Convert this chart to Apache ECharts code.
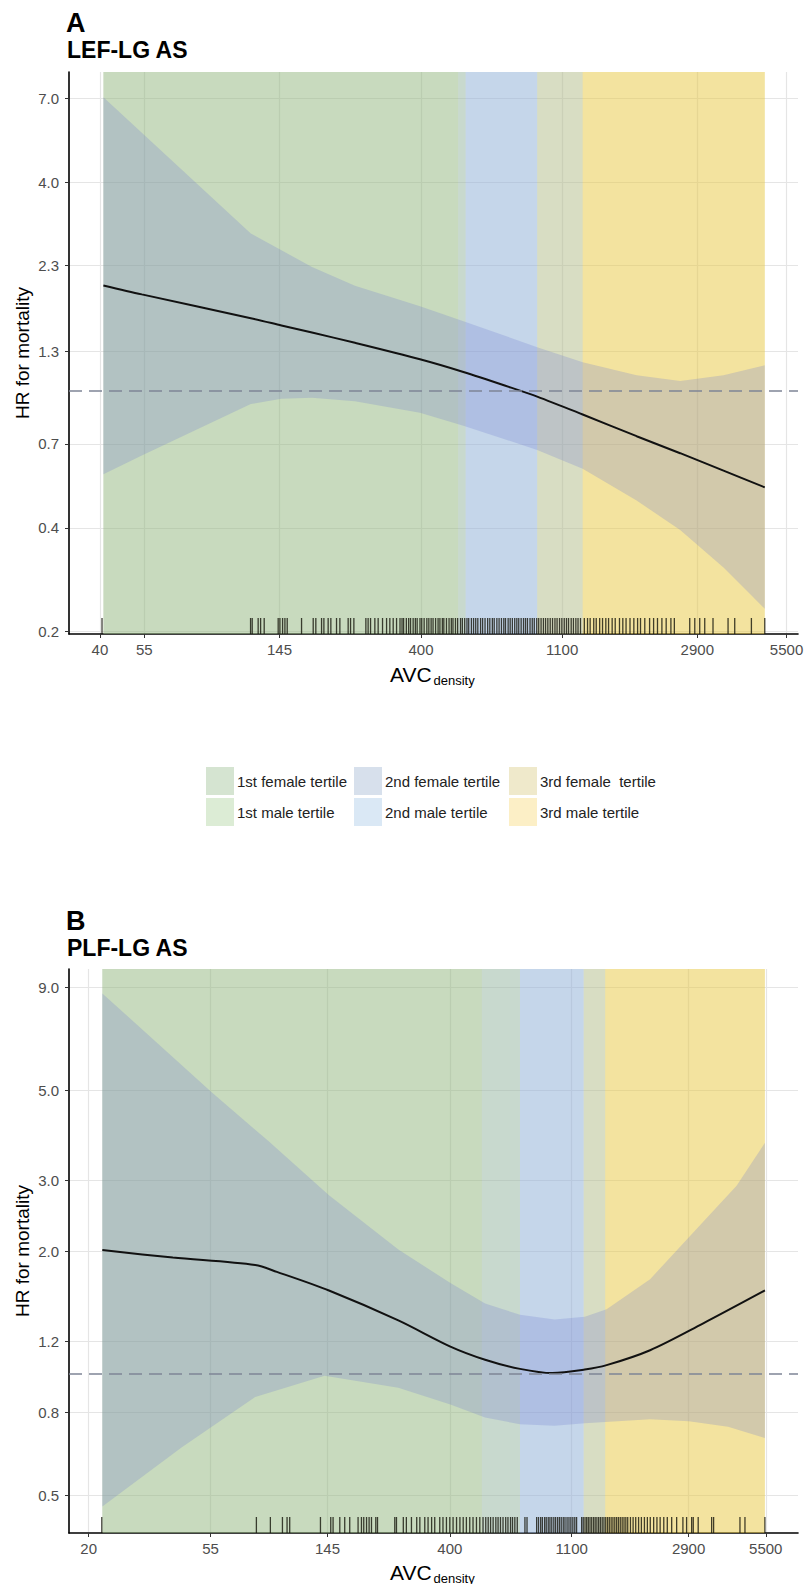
<!DOCTYPE html>
<html>
<head>
<meta charset="utf-8">
<title>AVC density and mortality</title>
<script src="https://cdn.jsdelivr.net/npm/echarts@6/dist/echarts.min.js"></script>
<style>
  html, body { margin: 0; padding: 0; background: #fff; }
  #main { width: 806px; height: 1584px; }
</style>
</head>
<body>
<div id="main"></div>
<script>
// ---- panel A: LEF-LG AS ----
const aX = [41, 54, 118, 147, 183, 249, 397, 542, 763, 920, 1275, 1877, 2565, 3500, 4705];
const aHR = [2.015, 1.898, 1.619, 1.543, 1.471, 1.374, 1.231, 1.131, 1.019, 0.960, 0.852, 0.737, 0.658, 0.586, 0.524];
const aUpper = [7.07, 5.58, 2.849, 2.547, 2.277, 2.011, 1.752, 1.587, 1.419, 1.333, 1.207, 1.106, 1.065, 1.106, 1.183];
const aLower = [0.572, 0.648, 0.913, 0.946, 0.952, 0.930, 0.862, 0.790, 0.712, 0.672, 0.593, 0.480, 0.394, 0.307, 0.233];
const aFemaleCuts = [41, 522, 920, 4705];
const aMaleCuts = [41, 551, 1275, 4705];
const aXTicks = [40, 55, 145, 400, 1100, 2900, 5500];
const aYTicks = [0.2, 0.4, 0.7, 1.3, 2.3, 4.0, 7.0];
const aRug = [
  40.6, 117.8, 119.2, 124.4, 126.6, 129.9, 143.6, 145.4, 148.2, 150.7, 153.2, 169.8, 184.6, 188.1,
  196, 199.3, 205.5, 209.5, 218.2, 223.5, 237.2, 241.3, 247.1, 269.3, 273.7, 278.5, 287.2, 294.1,
  303.5, 312.4, 319.8, 327.6, 335.6,
  344, 349, 353, 360, 366, 371, 378, 384, 389, 397, 402, 409, 417, 423, 430, 436, 444, 452, 458,
  466, 471, 480, 489, 497, 503, 512, 520, 531, 538, 547, 556, 563, 574, 583, 592, 601, 613, 622,
  633, 645, 655, 667, 676, 689, 700, 712, 724, 733, 747, 758, 770, 783, 795, 806, 820, 834, 846,
  858, 874, 888, 901, 917, 930, 946, 962, 977, 993, 1010, 1027, 1045, 1061, 1080, 1098, 1117,
  1135, 1152, 1174, 1193, 1214, 1233, 1255, 1290, 1320, 1345, 1380, 1405, 1440, 1470, 1505, 1535,
  1575, 1610, 1660, 1700, 1740, 1790, 1840, 1890, 1930, 1990, 2060, 2120, 2180, 2250, 2320, 2400,
  2460, 2747, 2848, 2951, 3059, 3246, 3616, 3793, 4275, 4705
];

// ---- panel B: PLF-LG AS ----
const bLineX = [22.4, 40.2, 79.6, 95.3, 146.8, 261, 402, 536, 716, 937, 1226, 1469, 2107, 3237, 5461];
const bLineHR = [2.017, 1.933, 1.853, 1.782, 1.603, 1.352, 1.165, 1.081, 1.026, 1.002, 1.022, 1.048, 1.141, 1.324, 1.603];
const bUpperX = [22.4, 55.6, 88.8, 146.8, 261, 402, 536, 716, 954, 1226, 1469, 2107, 3237, 4318, 5461];
const bUpperHR = [8.69, 4.946, 3.751, 2.757, 2.025, 1.672, 1.488, 1.396, 1.358, 1.381, 1.441, 1.709, 2.350, 2.908, 3.713];
const bLowerX = [22.4, 43.2, 79.6, 141.6, 261, 402, 536, 716, 954, 1226, 2107, 2906, 4025, 5461];
const bLowerHR = [0.469, 0.656, 0.874, 0.987, 0.922, 0.838, 0.778, 0.749, 0.742, 0.753, 0.770, 0.762, 0.738, 0.692];
const bFemaleCuts = [22.4, 522, 1214, 5461];
const bMaleCuts = [22.4, 716, 1452, 5461];
const bXTicks = [20, 55, 145, 400, 1100, 2900, 5500];
const bYTicks = [0.5, 0.8, 1.2, 2.0, 3.0, 5.0, 9.0];
const bRug = [
  22.3, 80.4, 90.3, 99.8, 103.7, 106, 136.8, 149, 151.9, 160.6, 167.3, 174.4, 186.9, 192.2, 195.9,
  200.5, 204.8, 208.9, 216.5, 219.6, 253.4, 257,
  272, 279, 291, 304, 312, 325, 334, 344, 353, 368, 378, 389, 400, 411, 423, 435, 447, 459, 472,
  485, 499, 513, 527, 539, 550, 561, 573, 586, 597, 609, 622, 636, 648, 662, 673, 686, 700,
  746, 759,
  822, 835, 850, 862, 878, 890, 905, 918, 932, 948, 962, 978, 993, 1008, 1025, 1040, 1058, 1075,
  1092, 1110, 1128, 1145,
  1194, 1210, 1228, 1245, 1262, 1280, 1298, 1318, 1336, 1355, 1375, 1395, 1416, 1437, 1458, 1480,
  1502, 1525, 1548, 1572, 1596, 1620, 1645, 1671, 1697, 1723, 1750, 1790, 1830, 1870, 1915, 1960,
  2010, 2060, 2110, 2170, 2230, 2290, 2360, 2430, 2520, 2626,
  2766, 2852, 2974, 3014, 3140, 3510, 3568, 4440, 4628, 5461
];

const tertileNames = {
  female: ['1st female tertile', '2nd female tertile', '3rd female  tertile'],
  male: ['1st male tertile', '2nd male tertile', '3rd male tertile'],
};
const legendColors = {
  female: ['#d5e4d1', '#d7e0ec', '#efe9cb'],
  male: ['#dcecd5', '#dae8f5', '#fcefc6'],
};
const bandFills = {
  female: ['rgba(135,175,125,0.3)', 'rgba(140,168,205,0.3)', 'rgba(226,203,19,0.3)'],
  male: ['rgba(155,190,128,0.3)', 'rgba(145,180,222,0.3)', 'rgba(235,198,104,0.3)'],
};

const FONT = '"Liberation Sans", Arial, Helvetica, sans-serif';
const ln = Math.log;

// axis ranges (raw units) chosen so the log scale lands where the picture has it
const aXRange = [32.04, 5971];
const aYRange = [0.197, 8.365];
const bXRange = [16.99, 7186];
const bYRange = [0.4033, 9.984];

function xAxis(gridIndex, range, ticks) {
  return {
    type: 'value',
    gridIndex,
    min: ln(range[0]),
    max: ln(range[1]),
    axisLine: { show: true, onZero: false, lineStyle: { color: '#000', width: 1.6 } },
    axisTick: { show: true, length: 4, customValues: ticks.map(ln), lineStyle: { color: '#333' } },
    axisLabel: {
      customValues: ticks.map(ln),
      formatter: (v) => String(Math.round(Math.exp(v))),
      color: '#4d4d4d',
      fontSize: 15,
      fontFamily: FONT,
      margin: 8,
    },
    splitLine: { show: true, lineStyle: { color: '#e5e5e5', width: 1.2 } },
  };
}

function yAxis(gridIndex, range, ticks) {
  return {
    type: 'value',
    gridIndex,
    min: ln(range[0]),
    max: ln(range[1]),
    axisLine: { show: true, onZero: false, lineStyle: { color: '#000', width: 1.6 } },
    axisTick: { show: true, length: 4, customValues: ticks.map(ln), lineStyle: { color: '#333' } },
    axisLabel: {
      customValues: ticks.map(ln),
      formatter: (v) => Math.exp(v).toFixed(1),
      color: '#4d4d4d',
      fontSize: 15,
      fontFamily: FONT,
      margin: 10,
    },
    splitLine: { show: true, lineStyle: { color: '#e5e5e5', width: 1.2 } },
  };
}

function bandSeries(idx, sex, k, cuts) {
  const fill = bandFills[sex][k];
  return {
    name: tertileNames[sex][k],
    type: 'custom',
    xAxisIndex: idx,
    yAxisIndex: idx,
    z: 1,
    silent: true,
    itemStyle: { color: legendColors[sex][k] },
    encode: { x: 0, y: 1 },
    data: [[ln(cuts[k]), 0, ln(cuts[k + 1])]],
    renderItem: (params, api) => {
      const cs = params.coordSys;
      const x0 = api.coord([api.value(0), 0])[0];
      const x1 = api.coord([api.value(2), 0])[0];
      return {
        type: 'rect',
        shape: { x: x0, y: cs.y, width: x1 - x0, height: cs.height },
        style: { fill },
      };
    },
  };
}

function ribbonSeries(idx, upX, upY, loX, loY) {
  return {
    type: 'custom',
    xAxisIndex: idx,
    yAxisIndex: idx,
    z: 2,
    silent: true,
    encode: { x: 0, y: 1 },
    data: [[ln(upX[0]), ln(upY[0])]],
    renderItem: (params, api) => {
      const pts = [];
      upX.forEach((x, i) => pts.push(api.coord([ln(x), ln(upY[i])])));
      for (let i = loX.length - 1; i >= 0; i--) pts.push(api.coord([ln(loX[i]), ln(loY[i])]));
      return { type: 'polygon', shape: { points: pts }, style: { fill: 'rgba(112,124,206,0.25)' } };
    },
  };
}

function rugSeries(idx, values, yRange) {
  return {
    type: 'custom',
    xAxisIndex: idx,
    yAxisIndex: idx,
    z: 3,
    silent: true,
    encode: { x: 0, y: 1 },
    data: values.map((v) => [ln(v), ln(yRange[0])]),
    renderItem: (params, api) => {
      const p = api.coord([api.value(0), api.value(1)]);
      return {
        type: 'line',
        shape: { x1: p[0], y1: p[1], x2: p[0], y2: p[1] - 16 },
        style: { stroke: 'rgba(20,20,10,0.8)', lineWidth: 1.3 },
      };
    },
  };
}

function lineSeries(idx, xs, hr) {
  return {
    type: 'line',
    xAxisIndex: idx,
    yAxisIndex: idx,
    z: 4,
    silent: true,
    showSymbol: false,
    smooth: 0.3,
    lineStyle: { color: '#111', width: 2 },
    data: xs.map((x, i) => [ln(x), ln(hr[i])]),
    markLine: {
      silent: true,
      symbol: ['none', 'none'],
      label: { show: false },
      lineStyle: { type: [13, 7], color: '#7f8596', width: 1.5 },
      data: [{ yAxis: 0 }],
    },
  };
}

function panelSeries(idx, femaleCuts, maleCuts, ribbon, rug, yRange, lineX, lineHR) {
  const s = [];
  for (let k = 0; k < 3; k++) s.push(bandSeries(idx, 'female', k, femaleCuts));
  for (let k = 0; k < 3; k++) s.push(bandSeries(idx, 'male', k, maleCuts));
  s.push(ribbonSeries(idx, ...ribbon));
  s.push(rugSeries(idx, rug, yRange));
  s.push(lineSeries(idx, lineX, lineHR));
  return s;
}

function legendColumn(left, k) {
  return {
    orient: 'vertical',
    left,
    top: 767,
    padding: 0,
    itemWidth: 28,
    itemHeight: 28,
    itemGap: 3,
    icon: 'rect',
    selectedMode: false,
    textStyle: { fontSize: 15, color: '#222', fontFamily: FONT, padding: [0, 0, 0, -2] },
    data: [tertileNames.female[k], tertileNames.male[k]],
  };
}

function text(str, x, y, font, extra = {}) {
  return Object.assign({
    type: 'text',
    x,
    y,
    silent: true,
    style: {
      text: str, font, fill: '#000',
      align: extra.align || 'left', verticalAlign: 'middle',
      textAlign: extra.align || 'left', textVerticalAlign: 'middle',
    },
  }, extra.rotation ? { rotation: extra.rotation } : {});
}

const chart = echarts.init(document.getElementById('main'), null, { renderer: 'svg' });
chart.setOption({
  animation: false,
  backgroundColor: '#fff',
  grid: [
    { left: 69, right: 8, top: 72, height: 562, containLabel: false, outerBoundsMode: 'none' },
    { left: 69, right: 8, top: 969, height: 564, containLabel: false, outerBoundsMode: 'none' },
  ],
  xAxis: [xAxis(0, aXRange, aXTicks), xAxis(1, bXRange, bXTicks)],
  yAxis: [yAxis(0, aYRange, aYTicks), yAxis(1, bYRange, bYTicks)],
  legend: [legendColumn(206, 0), legendColumn(354, 1), legendColumn(509, 2)],
  series: [
    ...panelSeries(0, aFemaleCuts, aMaleCuts, [aX, aUpper, aX, aLower], aRug, aYRange, aX, aHR),
    ...panelSeries(1, bFemaleCuts, bMaleCuts, [bUpperX, bUpperHR, bLowerX, bLowerHR], bRug, bYRange, bLineX, bLineHR),
  ],
  graphic: [
    text('A', 66, 23, 'bold 27px ' + FONT),
    text('LEF-LG AS', 67, 50, 'bold 23px ' + FONT),
    text('B', 66, 921, 'bold 27px ' + FONT),
    text('PLF-LG AS', 67, 948, 'bold 23px ' + FONT),
    text('HR for mortality', 22, 353, '19px ' + FONT, { align: 'center', rotation: Math.PI / 2 }),
    text('HR for mortality', 22, 1251, '19px ' + FONT, { align: 'center', rotation: Math.PI / 2 }),
    text('AVC', 390, 674, '21px ' + FONT),
    text('density', 433.5, 680, '13px ' + FONT),
    text('AVC', 390, 1572, '21px ' + FONT),
    text('density', 433.5, 1578, '13px ' + FONT),
  ],
});
</script>
</body>
</html>
